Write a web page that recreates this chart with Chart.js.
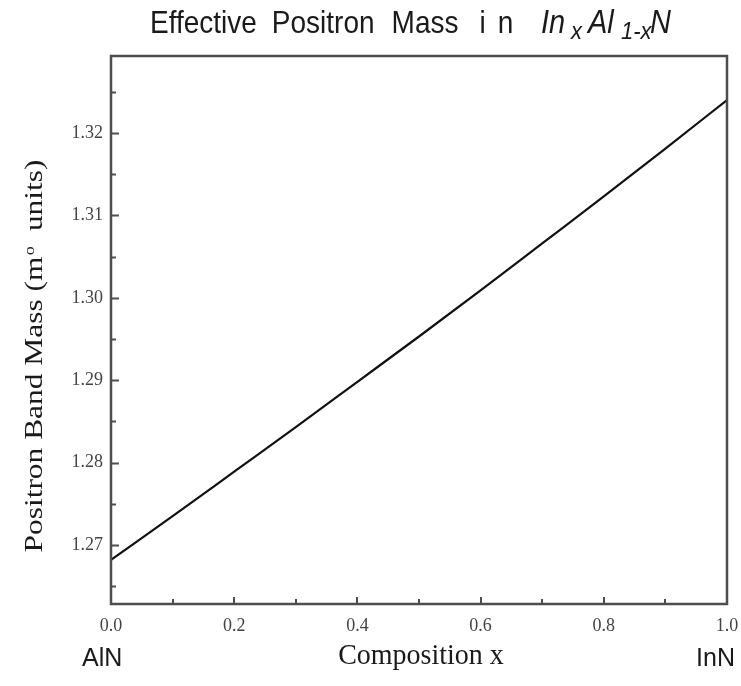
<!DOCTYPE html>
<html>
<head>
<meta charset="utf-8">
<script src="https://cdn.jsdelivr.net/npm/chart.js@4.4.1/dist/chart.umd.min.js"></script>
<style>
  html, body { margin: 0; padding: 0; background: #fff; }
  canvas { display: block; }
</style>
</head>
<body>
<canvas id="chart" width="741" height="686"></canvas>
<script>
// Composition x of In(x)Al(1-x)N and the computed positron band mass (m0 units)
const compositionX = [0.0, 0.1, 0.2, 0.3, 0.4, 0.5, 0.6, 0.7, 0.8, 0.9, 1.0];
const bandMass     = [1.2682, 1.2735, 1.2789, 1.2843, 1.2898, 1.2953, 1.3009, 1.3066, 1.3123, 1.3181, 1.3240];

// Axis ticks
const xTickValues  = [0.0, 0.2, 0.4, 0.6, 0.8, 1.0];
const xMinorValues = [0.1, 0.3, 0.5, 0.7, 0.9];
const yTickValues  = [1.27, 1.28, 1.29, 1.30, 1.31, 1.32];
const yMinorValues = [1.265, 1.275, 1.285, 1.295, 1.305, 1.315, 1.325];

// Text
const titleMain = ['Effective', 'Positron', 'Mass', 'in'];
const yTitleMain = 'Positron Band Mass (m';
const yTitleSub = 'o';
const yTitleEnd = ' units)';
const xTitle = 'Composition x';
const leftEndLabel = 'AlN';
const rightEndLabel = 'InN';

const SERIF = '"Liberation Serif", "Times New Roman", serif';
const SANS = '"Liberation Sans", Arial, sans-serif';
const FRAME = '#4d4d4d';

function drawTitle(ctx) {
  ctx.save();
  ctx.fillStyle = '#1a1a1a';
  ctx.textBaseline = 'alphabetic';
  ctx.textAlign = 'left';
  const base = 33;
  const sy = 1.12;
  const put = (text, x, font, dy, spacing) => {
    ctx.font = font;
    if ('letterSpacing' in ctx) ctx.letterSpacing = spacing || '0px';
    ctx.save();
    ctx.translate(x, base + dy);
    ctx.scale(1, sy);
    ctx.fillText(text, 0, 0);
    ctx.restore();
    const w = ctx.measureText(text).width;
    if ('letterSpacing' in ctx) ctx.letterSpacing = '0px';
    return w;
  };
  const normal = '28px ' + SANS;
  const ital = 'italic 29px ' + SANS;
  const italSub = 'italic 22px ' + SANS;
  const gaps = [0, 15, 17, 21];
  let x = 150;
  titleMain.forEach((word, i) => {
    x += gaps[i];
    x += put(word, x, normal, 0, word === 'in' ? '12px' : '0px');
  });
  // chemical formula, italic with subscripts
  put('In', 541, ital, 0);
  put('x', 571, italSub, 6);
  put('Al', 588, ital, 0);
  put('1-x', 621, italSub, 6);
  put('N', 650, ital, 0);
  ctx.restore();
}

function drawYTitle(ctx, cy) {
  ctx.save();
  ctx.fillStyle = '#1a1a1a';
  ctx.textBaseline = 'alphabetic';
  ctx.textAlign = 'left';
  const mainFont = '26px ' + SERIF;
  const subFont = '15px ' + SERIF;
  ctx.font = mainFont;
  const w1 = ctx.measureText(yTitleMain).width;
  const w3 = ctx.measureText(yTitleEnd).width;
  ctx.font = subFont;
  const w2 = ctx.measureText(yTitleSub).width;
  const gap = 6;
  const total = w1 + 1 + w2 + gap + w3;
  const targetLen = 393;
  const sx = targetLen / total;
  ctx.translate(42, cy);
  ctx.rotate(-Math.PI / 2);
  ctx.scale(sx, 1);
  let x = -total / 2;
  ctx.font = mainFont;
  ctx.fillText(yTitleMain, x, 0);
  x += w1 + 1;
  ctx.font = subFont;
  ctx.fillText(yTitleSub, x, -8);
  x += w2 + gap;
  ctx.font = mainFont;
  ctx.fillText(yTitleEnd, x, 0);
  ctx.restore();
}

const frameAndLabels = {
  id: 'frameAndLabels',
  afterDraw(chart) {
    const { ctx, chartArea: a, scales } = chart;
    const xs = scales.x, ys = scales.y;
    ctx.save();

    // plot frame
    ctx.strokeStyle = FRAME;
    ctx.lineWidth = 2.5;
    ctx.strokeRect(a.left, a.top, a.right - a.left, a.bottom - a.top);

    // inward tick marks
    ctx.lineWidth = 2;
    const yTick = (v, len) => {
      const p = Math.round(ys.getPixelForValue(v)) + 0.5;
      ctx.beginPath(); ctx.moveTo(a.left, p); ctx.lineTo(a.left + len, p); ctx.stroke();
    };
    const xTick = (v, len) => {
      const p = Math.round(xs.getPixelForValue(v));
      ctx.beginPath(); ctx.moveTo(p, a.bottom); ctx.lineTo(p, a.bottom - len); ctx.stroke();
    };
    yTickValues.forEach(v => yTick(v, 8));
    yMinorValues.forEach(v => yTick(v, 5));
    xTickValues.forEach(v => xTick(v, 7));
    xMinorValues.forEach(v => xTick(v, 5));

    // titles
    drawTitle(ctx);
    drawYTitle(ctx, 356);

    ctx.fillStyle = '#1a1a1a';
    ctx.textBaseline = 'alphabetic';
    ctx.font = '28px ' + SERIF;
    ctx.textAlign = 'center';
    ctx.save();
    ctx.translate((a.left + a.right) / 2 + 2, 664);
    ctx.scale(1, 1.05);
    ctx.fillText(xTitle, 0, 0);
    ctx.restore();

    ctx.font = '25px ' + SANS;
    ctx.textAlign = 'left';
    ctx.fillText(leftEndLabel, 82, 666);
    ctx.textAlign = 'right';
    ctx.fillText(rightEndLabel, 735, 666);

    ctx.restore();
  }
};

new Chart(document.getElementById('chart'), {
  type: 'scatter',
  data: {
    datasets: [{
      data: compositionX.map((x, i) => ({ x, y: bandMass[i] })),
      showLine: true,
      borderColor: '#111111',
      borderWidth: 2.2,
      pointRadius: 0,
      cubicInterpolationMode: 'monotone',
      fill: false
    }]
  },
  options: {
    responsive: false,
    animation: false,
    devicePixelRatio: 1,
    layout: { padding: { top: 56, right: 14, bottom: 0, left: 0 } },
    plugins: { legend: { display: false }, tooltip: { enabled: false }, title: { display: false } },
    scales: {
      x: {
        type: 'linear',
        min: 0,
        max: 1,
        grid: { display: false, drawTicks: false },
        border: { display: false },
        afterBuildTicks: s => { s.ticks = xTickValues.map(v => ({ value: v })); },
        afterFit: s => { s.height = 82; s.paddingLeft = 0; s.paddingRight = 0; },
        ticks: {
          padding: 11,
          color: '#444',
          font: { family: SERIF, size: 18 },
          maxRotation: 0,
          callback: v => Number(v).toFixed(1)
        }
      },
      y: {
        type: 'linear',
        min: 1.26284,
        max: 1.32934,
        grid: { display: false, drawTicks: false },
        border: { display: false },
        afterBuildTicks: s => { s.ticks = yTickValues.map(v => ({ value: v })); },
        afterFit: s => { s.width = 111; s.paddingTop = 0; s.paddingBottom = 0; },
        ticks: {
          padding: 8,
          color: '#444',
          font: { family: SERIF, size: 18 },
          callback: v => Number(v).toFixed(2)
        }
      }
    }
  },
  plugins: [frameAndLabels]
});
</script>
</body>
</html>
